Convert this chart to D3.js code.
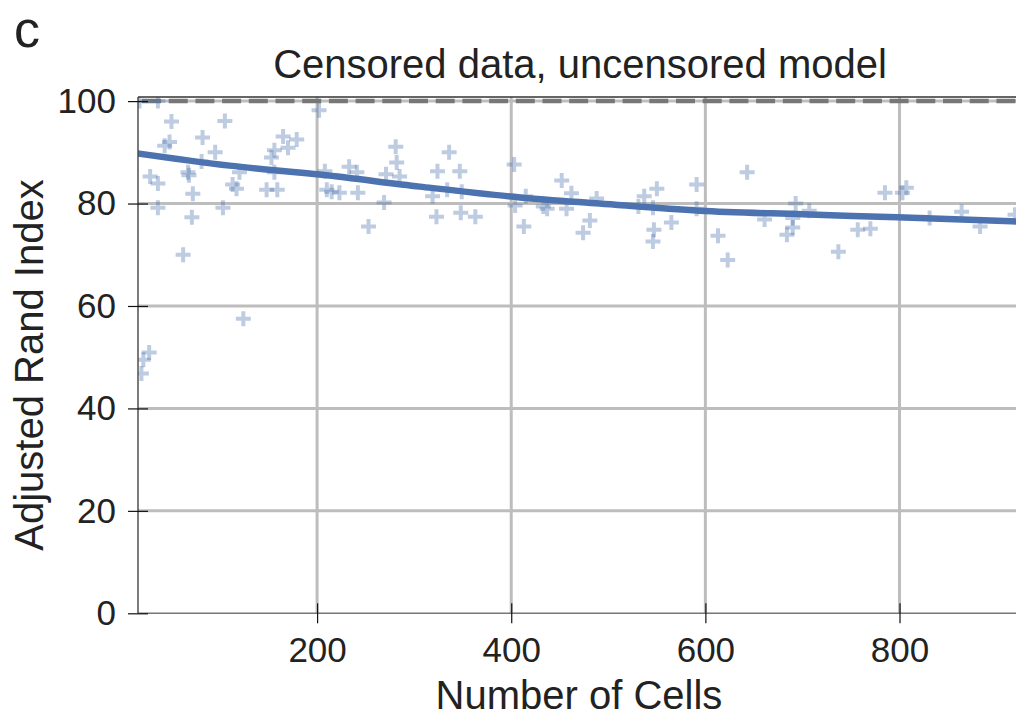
<!DOCTYPE html>
<html>
<head>
<meta charset="utf-8">
<script src="https://cdn.jsdelivr.net/npm/d3@7/dist/d3.min.js"></script>
<style>
  html, body { margin: 0; padding: 0; background: #fff; }
  svg { display: block; font-family: "Liberation Sans", Arial, Helvetica, sans-serif; }
</style>
</head>
<body>
<svg id="chart" width="1016" height="719"></svg>
<script>
// Per-run clustering scores: number of cells vs. adjusted Rand index (%)
const cellCounts = [
  17, 36, 50, 105, 202, 48, 43, 82, 165, 179, 170, 156, 153, 95, 81,
  28, 36, 67, 68, 120, 113, 117, 72, 148, 159, 156, 208, 210, 36, 71,
  103, 62, 281, 336, 233, 241, 282, 271, 285, 324, 347, 215, 223, 242, 269,
  319, 334, 349, 253, 323, 348, 363, 403, 404, 413, 452, 415, 462, 433, 437,
  457, 488, 481, 474, 537, 550, 531, 546, 565, 547, 546, 591, 591, 643, 613,
  623, 661, 693, 690, 690, 684, 707, 737, 757, 770, 785, 807, 803, 831, 864,
  883, 919, 27, 21, 19, 124
];
const randIndex = [
  100, 100, 96.0, 96.1, 98.2, 92.0, 91.3, 92.9, 93.1, 92.5, 90.9, 90.4, 89.0, 90.0, 88.2,
  85.3, 83.9, 86.1, 85.5, 86.1, 83.7, 82.9, 81.9, 82.7, 82.7, 86.1, 86.3, 82.7, 79.2, 77.3,
  79.2, 70.0, 91.1, 90.0, 87.2, 86.1, 88.0, 85.7, 85.3, 86.3, 86.3, 82.3, 82.1, 82.1, 80.2,
  81.4, 82.7, 82.3, 75.5, 77.4, 78.2, 77.4, 87.6, 79.6, 75.5, 84.5, 81.4, 82.0, 79.4, 79.0,
  79.0, 81.0, 76.7, 74.3, 81.4, 82.9, 79.4, 79.2, 76.3, 74.9, 72.6, 83.7, 79.0, 86.1, 73.7,
  69.0, 76.9, 80.0, 77.2, 75.3, 73.9, 78.6, 70.6, 74.9, 75.1, 82.1, 83.1, 82.1, 77.2, 78.4,
  75.5, 77.8, 50.9, 49.5, 46.8, 57.5
];

// Smoothed trend through the scores
const trendCells = [15, 110, 205, 306, 409, 491, 594, 700, 798, 920];
const trendIndex = [89.8, 87.4, 85.6, 83.3, 81.2, 80.0, 78.6, 77.9, 77.3, 76.5];

// Reference level (perfect agreement)
const perfectScore = 100;

const xTicks = [200, 400, 600, 800];
const yTicks = [0, 20, 40, 60, 80, 100];

const panelLabel = "c";
const titleText = "Censored data, uncensored model";
const xLabel = "Number of Cells";
const yLabel = "Adjusted Rand Index";

const svg = d3.select("#chart");
const plotLeft = 138, plotRight = 1016, plotTop = 97, plotBottom = 613.3;
const blue = "#4C72B0";
const textColor = "#222";

const x = d3.scaleLinear().domain([15.5, 920]).range([plotLeft, plotRight]);
const y = d3.scaleLinear().domain([0, 100.8]).range([plotBottom, plotTop]);

svg.append("defs").append("clipPath").attr("id", "plot-clip")
  .append("rect").attr("x", plotLeft).attr("y", plotTop)
  .attr("width", plotRight - plotLeft).attr("height", plotBottom - plotTop);

// Gridlines
const grid = svg.append("g");
grid.selectAll("line.gy").data(yTicks.filter(d => d > 0)).join("line")
  .attr("class", "gy")
  .attr("x1", plotLeft).attr("x2", plotRight)
  .attr("y1", d => y(d)).attr("y2", d => y(d))
  .attr("stroke", "#bdbdbd").attr("stroke-width", 3);
grid.selectAll("line.gx").data(xTicks).join("line")
  .attr("class", "gx")
  .attr("y1", plotTop).attr("y2", plotBottom)
  .attr("x1", d => x(d)).attr("x2", d => x(d))
  .attr("stroke", "#bdbdbd").attr("stroke-width", 3);

// Dashed reference line at 100
svg.append("line")
  .attr("x1", plotLeft).attr("x2", plotRight)
  .attr("y1", y(perfectScore)).attr("y2", y(perfectScore))
  .attr("stroke", "#777").attr("stroke-width", 4.5)
  .attr("stroke-dasharray", "19,7.7")
  .attr("stroke-dashoffset", -4);

// Scatter of "+" markers
const data = cellCounts.map((c, i) => ({ c, v: randIndex[i] }));
const arm = 7.5;
const plus = `M${-arm},0H${arm}M0,${-arm}V${arm}`;
svg.append("g").attr("clip-path", "url(#plot-clip)")
  .selectAll("path").data(data).join("path")
  .attr("transform", d => `translate(${x(d.c)},${y(d.v)})`)
  .attr("d", plus)
  .attr("fill", "none")
  .attr("stroke", blue)
  .attr("stroke-opacity", 0.36)
  .attr("stroke-width", 4);

// Trend line
const trend = trendCells.map((c, i) => ({ c, v: trendIndex[i] }));
svg.append("path").datum(trend)
  .attr("clip-path", "url(#plot-clip)")
  .attr("d", d3.line().x(d => x(d.c)).y(d => y(d.v)).curve(d3.curveMonotoneX))
  .attr("fill", "none")
  .attr("stroke", blue)
  .attr("stroke-width", 6.5)
  .attr("stroke-linecap", "round");

// Frame: left axis line, top border, bottom axis line
svg.append("line").attr("x1", plotLeft).attr("x2", plotRight).attr("y1", plotTop).attr("y2", plotTop)
  .attr("stroke", "#333").attr("stroke-width", 1.4);
svg.append("line").attr("x1", plotLeft).attr("x2", plotRight).attr("y1", plotBottom).attr("y2", plotBottom)
  .attr("stroke", "#777").attr("stroke-width", 1.6);
svg.append("line").attr("x1", plotLeft).attr("x2", plotLeft).attr("y1", plotTop).attr("y2", plotBottom)
  .attr("stroke", "#444").attr("stroke-width", 1.4);

// Axes (ticks cross the axis line)
const xAxis = d3.axisBottom(x).tickValues(xTicks).tickSize(10).tickPadding(14).tickFormat(d3.format("d"));
const gx = svg.append("g").attr("transform", `translate(0,${plotBottom})`).call(xAxis);
gx.select(".domain").remove();
gx.selectAll(".tick line").attr("y1", -10).attr("stroke", "#111").attr("stroke-width", 1.2);
gx.selectAll(".tick text").attr("font-size", 35).attr("fill", textColor)
  .attr("font-family", "Liberation Sans, Arial, sans-serif");

const yAxis = d3.axisLeft(y).tickValues(yTicks).tickSize(10).tickPadding(12).tickFormat(d3.format("d"));
const gy = svg.append("g").attr("transform", `translate(${plotLeft},0)`).call(yAxis);
gy.select(".domain").remove();
gy.selectAll(".tick line").attr("x1", 10).attr("stroke", "#111").attr("stroke-width", 1.2);
gy.selectAll(".tick text").attr("font-size", 35).attr("fill", textColor)
  .attr("font-family", "Liberation Sans, Arial, sans-serif");

// Titles and labels
svg.append("text").attr("x", 580).attr("y", 78)
  .attr("text-anchor", "middle").attr("font-size", 40).attr("fill", textColor)
  .text(titleText);
svg.append("text").attr("x", 579).attr("y", 709)
  .attr("text-anchor", "middle").attr("font-size", 40).attr("fill", textColor)
  .text(xLabel);
svg.append("text")
  .attr("transform", "translate(43,365) rotate(-90)")
  .attr("text-anchor", "middle").attr("font-size", 40).attr("fill", textColor)
  .text(yLabel);
svg.append("text").attr("x", 14).attr("y", 47)
  .attr("font-size", 52).attr("fill", textColor)
  .text(panelLabel);
</script>
</body>
</html>
